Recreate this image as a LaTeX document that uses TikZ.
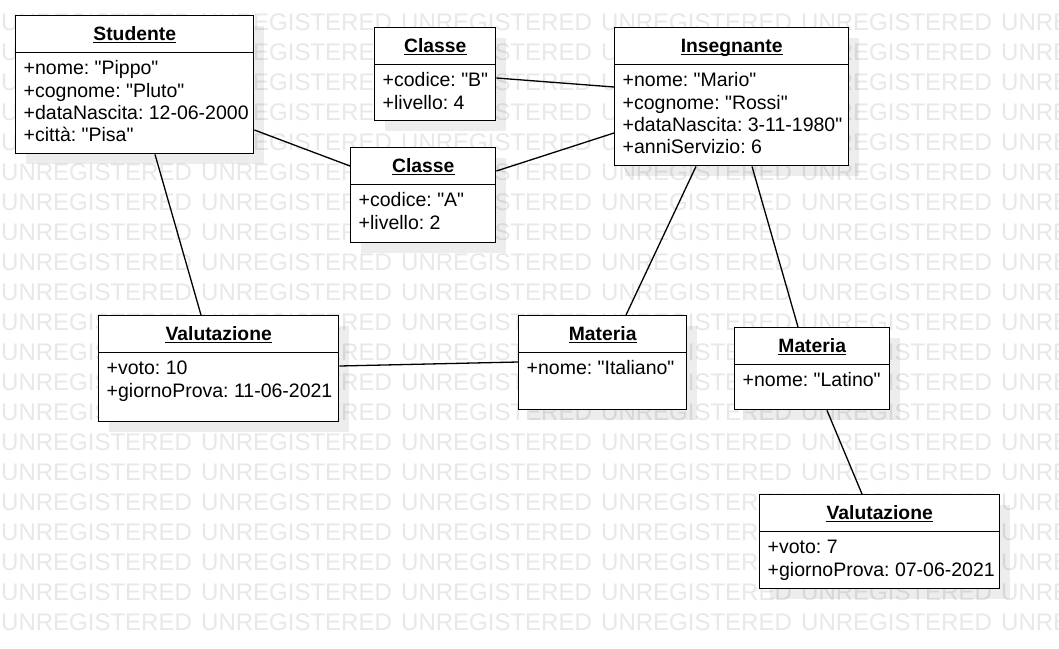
\documentclass[tikz,border=0pt]{standalone}
\usepackage{fontspec}
\setmainfont{Liberation Sans}[Ligatures=TeXOff]
\usetikzlibrary{shadows}
\frenchspacing
\definecolor{watermark}{RGB}{232,232,232}
\tikzset{
  objbox/.style={draw, line width=1.4pt, fill=white, inner sep=0pt, anchor=north west,
    drop shadow={shadow xshift=10pt, shadow yshift=-10pt, fill=black, opacity=0.07}},
  divider/.style={line width=1.2pt},
  titletext/.style={font=\fontsize{19.3}{22}\selectfont\bfseries, inner sep=0pt, anchor=base},
  attrtext/.style={font=\fontsize{19.5}{22}\selectfont, inner sep=0pt, anchor=base west},
  underl/.style={line width=1.4pt},
  assoc/.style={line width=1.3pt},
  wmtext/.style={font=\fontsize{24}{24}\selectfont, text=watermark, inner sep=0pt, anchor=base west},
}
% object box: name, left, top, width, height, title, attribute list
\newcommand\objbox[7]{%
  \node[objbox, minimum width=#4pt, minimum height=#5pt] (#1) at (#2,-#3) {};
  \draw[divider] ([yshift=-37.5pt]#1.north west) -- ([yshift=-37.5pt]#1.north east);
  \node[titletext] (#1-t) at ([yshift=-25pt]#1.north) {#6};
  \draw[underl] ([yshift=-2.5pt]#1-t.base west) -- ([yshift=-2.5pt]#1-t.base east);
  \foreach \a [count=\i] in {#7} {
    \node[attrtext] (#1-a\i) at ([xshift=8.5pt, yshift=-37.5pt-22.3pt*\i]#1.north west) {\a};
  }%
}
\begin{document}
\begin{tikzpicture}[x=1pt, y=1pt]
\useasboundingbox (0,0) rectangle (1059,-648);
\clip (0,0) rectangle (1059,-648);
\fill[white] (0,0) rectangle (1059,-648);

% background watermark
\foreach \r in {0,...,20} {
  \foreach \c in {0,...,5} {
    \node[wmtext] (wm-\r-\c) at ({1+200*\c}, {-(30.3+30*\r)}) {UNREGISTERED};
  }
}

% objects
\objbox{stud}{15}{15}{238}{138}{Studente}{+nome: "Pippo", +cognome: "Pluto", +dataNascita: 12-06-2000, +città: "Pisa"}
\objbox{clB}{374}{27}{121}{93}{Classe}{+codice: "B", +livello: 4}
\objbox{ins}{614}{27}{234}{138}{Insegnante}{+nome: "Mario", +cognome: "Rossi", +dataNascita: 3-11-1980", +anniServizio: 6}
\objbox{clA}{350}{147}{145}{95}{Classe}{+codice: "A", +livello: 2}
\objbox{val1}{98}{315}{240}{106}{Valutazione}{+voto: 10, +giornoProva: 11-06-2021}
\objbox{matI}{518}{315}{168}{94}{Materia}{+nome: "Italiano"}
\objbox{matL}{734}{327}{155}{82}{Materia}{+nome: "Latino"}
\objbox{val2}{759}{494}{240}{94}{Valutazione}{+voto: 7, +giornoProva: 07-06-2021}

% links
\draw[assoc] ([yshift=-115pt]stud.north east) -- ([yshift=-19pt]clA.north west);
\draw[assoc] ([xshift=140pt]stud.south west) -- ([xshift=103pt]val1.north west);
\draw[assoc] ([yshift=-51pt]clB.north east) -- ([yshift=-60pt]ins.north west);
\draw[assoc] ([yshift=-24pt]clA.north east) -- ([yshift=-106pt]ins.north west);
\draw[assoc] ([xshift=82pt]ins.south west) -- ([xshift=108pt]matI.north west);
\draw[assoc] ([xshift=138pt]ins.south west) -- ([xshift=64pt]matL.north west);
\draw[assoc] ([yshift=-51pt]val1.north east) -- ([yshift=-47pt]matI.north west);
\draw[assoc] ([xshift=93pt]matL.south west) -- ([xshift=103pt]val2.north west);
\end{tikzpicture}
\end{document}
